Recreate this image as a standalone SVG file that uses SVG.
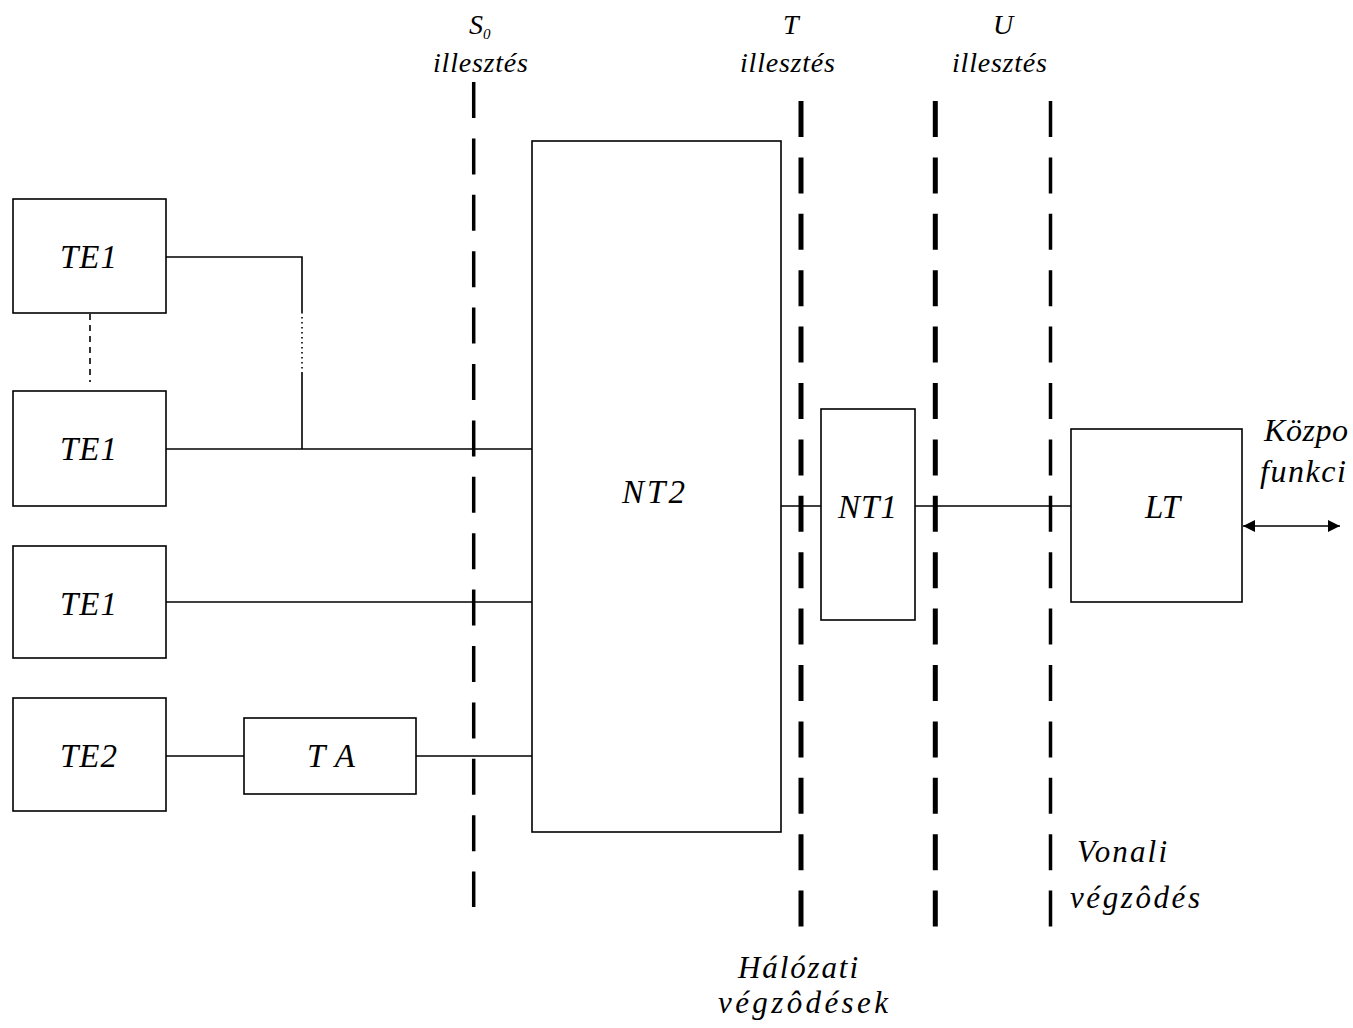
<svg xmlns="http://www.w3.org/2000/svg" width="1353" height="1028" viewBox="0 0 1353 1028">
<style>
.box{fill:#fff;stroke:#000;stroke-width:1.6}
.ln{stroke:#000;stroke-width:1.6;fill:none}
.t{font-family:"Liberation Serif","Times New Roman",serif;font-style:italic;fill:#000}
.nl{font-size:33px}
.sl{font-size:28px}
.bl{font-size:31px}
.dash{stroke:#000;fill:none;stroke-dasharray:36 20.4}
</style>
<defs>
<marker id="ah" viewBox="0 0 10 10" refX="10" refY="5" markerWidth="14" markerHeight="12" markerUnits="userSpaceOnUse" orient="auto-start-reverse">
<path d="M0,0 L10,5 L0,10 z" fill="#000"/>
</marker>
</defs>
<rect width="1353" height="1028" fill="#fff"/>

<g id="interfaces">
<line class="dash" x1="473.7" y1="82" x2="473.7" y2="907" stroke-width="3.5"/>
<line class="dash" x1="801" y1="101" x2="801" y2="927" stroke-width="5"/>
<line class="dash" x1="935.3" y1="101" x2="935.3" y2="927" stroke-width="5"/>
<line class="dash" x1="1050.5" y1="101" x2="1050.5" y2="927" stroke-width="3.5"/>
</g>

<g id="connectors">
<polyline class="ln" points="166,257 302,257 302,312"/>
<line class="ln" x1="302" y1="312" x2="302" y2="372" stroke-dasharray="1.5 3.5"/>
<line class="ln" x1="302" y1="372" x2="302" y2="449"/>
<line class="ln" x1="90" y1="314" x2="90" y2="382" stroke-dasharray="6 5"/>
<line class="ln" x1="166" y1="449" x2="532" y2="449"/>
<line class="ln" x1="166" y1="602" x2="532" y2="602"/>
<line class="ln" x1="166" y1="756" x2="244" y2="756"/>
<line class="ln" x1="416" y1="756" x2="532" y2="756"/>
<line class="ln" x1="781" y1="506" x2="821" y2="506"/>
<line class="ln" x1="915" y1="506" x2="1071" y2="506"/>
<line class="ln" x1="1243" y1="526" x2="1340" y2="526" marker-start="url(#ah)" marker-end="url(#ah)"/>
</g>

<g id="te1a"><rect class="box" x="13" y="199" width="153" height="114"/><text class="t nl" x="60" y="268" textLength="57" lengthAdjust="spacing">TE1</text></g>
<g id="te1b"><rect class="box" x="13" y="391" width="153" height="115"/><text class="t nl" x="60" y="460" textLength="57" lengthAdjust="spacing">TE1</text></g>
<g id="te1c"><rect class="box" x="13" y="546" width="153" height="112"/><text class="t nl" x="60" y="615" textLength="57" lengthAdjust="spacing">TE1</text></g>
<g id="te2"><rect class="box" x="13" y="698" width="153" height="113"/><text class="t nl" x="60" y="767" textLength="57" lengthAdjust="spacing">TE2</text></g>
<g id="ta"><rect class="box" x="244" y="718" width="172" height="76"/><text class="t nl" x="307" y="767" textLength="48" lengthAdjust="spacing">TA</text></g>
<g id="nt2"><rect class="box" x="532" y="141" width="249" height="691"/><text class="t nl" x="622" y="503" textLength="63" lengthAdjust="spacing">NT2</text></g>
<g id="nt1"><rect class="box" x="821" y="409" width="94" height="211"/><text class="t nl" x="838" y="518" textLength="59" lengthAdjust="spacing">NT1</text></g>
<g id="lt"><rect class="box" x="1071" y="429" width="171" height="173"/><text class="t nl" x="1145" y="518" textLength="35" lengthAdjust="spacing">LT</text></g>

<g id="labels">
<text class="t sl" x="469" y="34">S<tspan font-size="15" dy="5">0</tspan></text>
<text class="t sl" x="433" y="72" textLength="95" lengthAdjust="spacing">illesztés</text>
<text class="t sl" x="783" y="34">T</text>
<text class="t sl" x="740" y="72" textLength="95" lengthAdjust="spacing">illesztés</text>
<text class="t sl" x="993" y="34">U</text>
<text class="t sl" x="952" y="72" textLength="95" lengthAdjust="spacing">illesztés</text>
<text class="t" font-size="32" x="1264" y="441" textLength="84" lengthAdjust="spacing">Közpo</text>
<text class="t" font-size="32" x="1260" y="482" textLength="86" lengthAdjust="spacing">funkci</text>
<text class="t bl" x="1077" y="862" textLength="90" lengthAdjust="spacing">Vonali</text>
<text class="t bl" x="1070" y="908" textLength="130" lengthAdjust="spacing">végzôdés</text>
<text class="t bl" x="738" y="978" textLength="120" lengthAdjust="spacing">Hálózati</text>
<text class="t bl" x="718" y="1013" textLength="170" lengthAdjust="spacing">végzôdések</text>
</g>
</svg>
